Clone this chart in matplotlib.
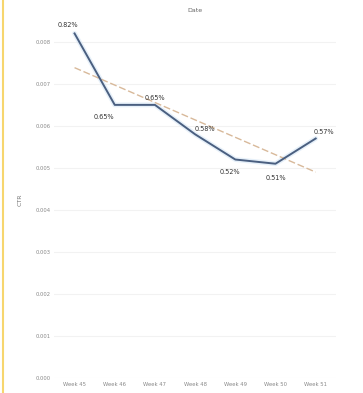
import matplotlib
matplotlib.use("Agg")
import matplotlib.pyplot as plt
import numpy as np

weeks = ["Week 45", "Week 46", "Week 47", "Week 48", "Week 49", "Week 50", "Week 51"]
ctr = [0.0082, 0.0065, 0.0065, 0.0058, 0.0052, 0.0051, 0.0057]
yticks = [0.000, 0.001, 0.002, 0.003, 0.004, 0.005, 0.006, 0.007, 0.008]
label_offsets = [(-5, 6), (-8, -9), (0, 5), (7, 4), (-4, -9), (0, -10), (6, 5)]

fig = plt.figure(figsize=(3.63, 3.93), dpi=100)
ax = fig.add_axes([0.15, 0.038, 0.775, 0.909])

x = np.arange(len(weeks))
ax.plot(x, ctr, color="#d6e6f5", lw=3.5, alpha=0.6, zorder=2, solid_capstyle="round")
ax.plot(x, ctr, color="#4a5f80", lw=1.4, zorder=3)
coef = np.polyfit(x, ctr, 1)
ax.plot(x, np.polyval(coef, x), color="#d8b99a", lw=1.0, ls=(0, (5, 2)), zorder=2)

for xi, yi, off in zip(x, ctr, label_offsets):
    ax.annotate(f"{yi*100:.2f}%", (xi, yi), xytext=off, textcoords="offset points",
                ha="center", va="center", fontsize=4.7, color="#333333", zorder=4)

ax.set_xlim(-0.5, 6.5)
ax.set_ylim(0, 0.0085)
ax.set_xticks(x)
ax.set_xticklabels(weeks, fontsize=3.8, color="#888888")
ax.set_yticks(yticks)
ax.set_yticklabels([f"{t:.3f}" for t in yticks], fontsize=3.8, color="#888888")
ax.tick_params(length=0, pad=3)
ax.grid(axis="y", color="#f2f2f2", lw=0.8)
ax.set_axisbelow(True)
for s in ax.spines.values():
    s.set_visible(False)
ax.set_ylabel("CTR", fontsize=4.5, color="#777777", labelpad=9)
ax.set_title("Date", fontsize=4.5, color="#666666", pad=6)

fig.add_artist(plt.Line2D([0.008, 0.008], [0, 1], color="#f7d66e", lw=1.5, transform=fig.transFigure))

fig.savefig("out.png", dpi=100)
